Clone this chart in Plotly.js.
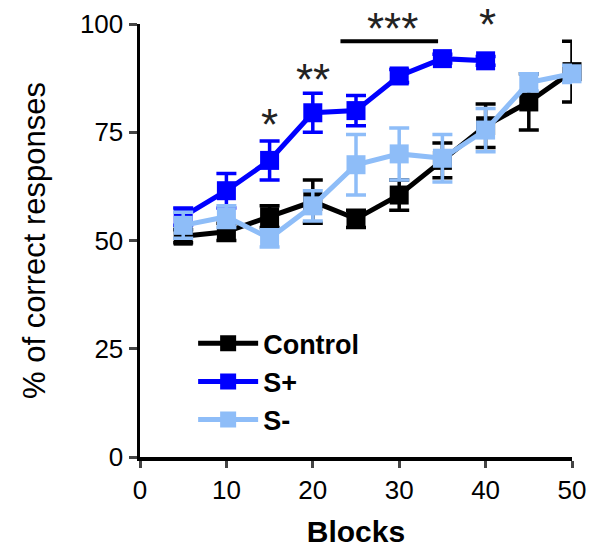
<!DOCTYPE html>
<html>
<head>
<meta charset="utf-8">
<script src="https://cdn.plot.ly/plotly-3.0.1.min.js"></script>
<style>html,body{margin:0;padding:0;background:#fff;}#chart{width:589px;height:549px;}</style>
</head>
<body>
<div id="chart"></div>
<script>
const blocks = [5, 10, 15, 20, 25, 30, 35, 40, 45, 50];
const blocksSplus = [5, 10, 15, 20, 25, 30, 35, 40];

const controlMean = [51, 52, 55.5, 59, 55, 60.5, 68.5, 76.5, 82, 89];
const controlErr  = [1.5, 2, 2.5, 5, 2, 3.5, 4, 5, 6.5, 7];

const splusMean = [55.5, 61.5, 68.5, 79.5, 80, 88, 92, 91.5];
const splusErr  = [2, 4, 4.5, 4.5, 3.5, 1.5, 1, 1];

const sminusMean = [53.5, 55.5, 50.5, 58, 67.5, 70, 69, 75.5, 86.5, 88.5];
const sminusErr  = [3, 2.5, 2, 3.5, 7, 6, 5.5, 5, 2, 2];

const starLabels = ['*', '**', '***', '*'];
const starX = [15, 20, 29.2, 40.2];
const starY = [76.8, 87.2, 99, 99.8];
const barX = [23.2, 34.5];
const barY = 96;

const cBlack = '#000000', cBlue = '#0000FF', cLight = '#8EBDF8';

function trace(name, x, y, e, color, rank) {
  return {
    type: 'scatter', mode: 'lines+markers', name: name, x: x, y: y,
    cliponaxis: false,
    line: {color: color, width: 5},
    marker: {symbol: 'square', size: 19, color: color},
    error_y: {type: 'data', array: e, visible: true, color: color, thickness: 3.5, width: 10},
    legendrank: rank
  };
}

const data = [
  trace('S+', blocksSplus, splusMean, splusErr, cBlue, 2),
  trace('Control', blocks, controlMean, controlErr, cBlack, 1),
  trace('S-', blocks, sminusMean, sminusErr, cLight, 3)
];

const annotations = starLabels.map((t, i) => ({
  x: starX[i], y: starY[i] / 100, xref: 'x', yref: 'paper', text: t, showarrow: false,
  yanchor: 'middle',
  font: {family: 'Liberation Sans, Arial, sans-serif', size: 44, color: '#222'}
}));

const layout = {
  width: 589, height: 549,
  margin: {l: 140, r: 17, t: 24, b: 92},
  paper_bgcolor: '#fff', plot_bgcolor: '#fff',
  font: {family: 'Liberation Sans, Arial, sans-serif', color: '#000'},
  showlegend: true,
  legend: {
    x: 0.123, y: 0.318, xanchor: 'left', yanchor: 'top',
    font: {size: 27, family: 'Liberation Sans, Arial, sans-serif', weight: 'bold'},
    bgcolor: 'rgba(0,0,0,0)', tracegroupgap: 0, itemwidth: 60
  },
  xaxis: {
    range: [0, 50], tickvals: [0, 10, 20, 30, 40, 50], ticks: 'outside', ticklen: 7, tickwidth: 3,
    showline: true, linewidth: 3.5, linecolor: '#000', showgrid: false, zeroline: false,
    tickfont: {size: 26}, fixedrange: true,
    title: {text: '<b>Blocks</b>', font: {size: 30}, standoff: 18}
  },
  yaxis: {
    range: [0, 100], tickvals: [0, 25, 50, 75, 100], ticks: 'outside', ticklen: 8, tickwidth: 3,
    showline: true, linewidth: 3.5, linecolor: '#000', showgrid: false, zeroline: false,
    tickfont: {size: 26}, fixedrange: true,
    title: {text: '% of correct responses', font: {size: 31}, standoff: 26}
  },
  shapes: [{
    type: 'line', xref: 'x', yref: 'y', x0: barX[0], x1: barX[1], y0: barY, y1: barY,
    line: {color: '#000', width: 4}
  }],
  annotations: annotations
};

Plotly.newPlot('chart', data, layout, {displayModeBar: false, staticPlot: true});
</script>
</body>
</html>
